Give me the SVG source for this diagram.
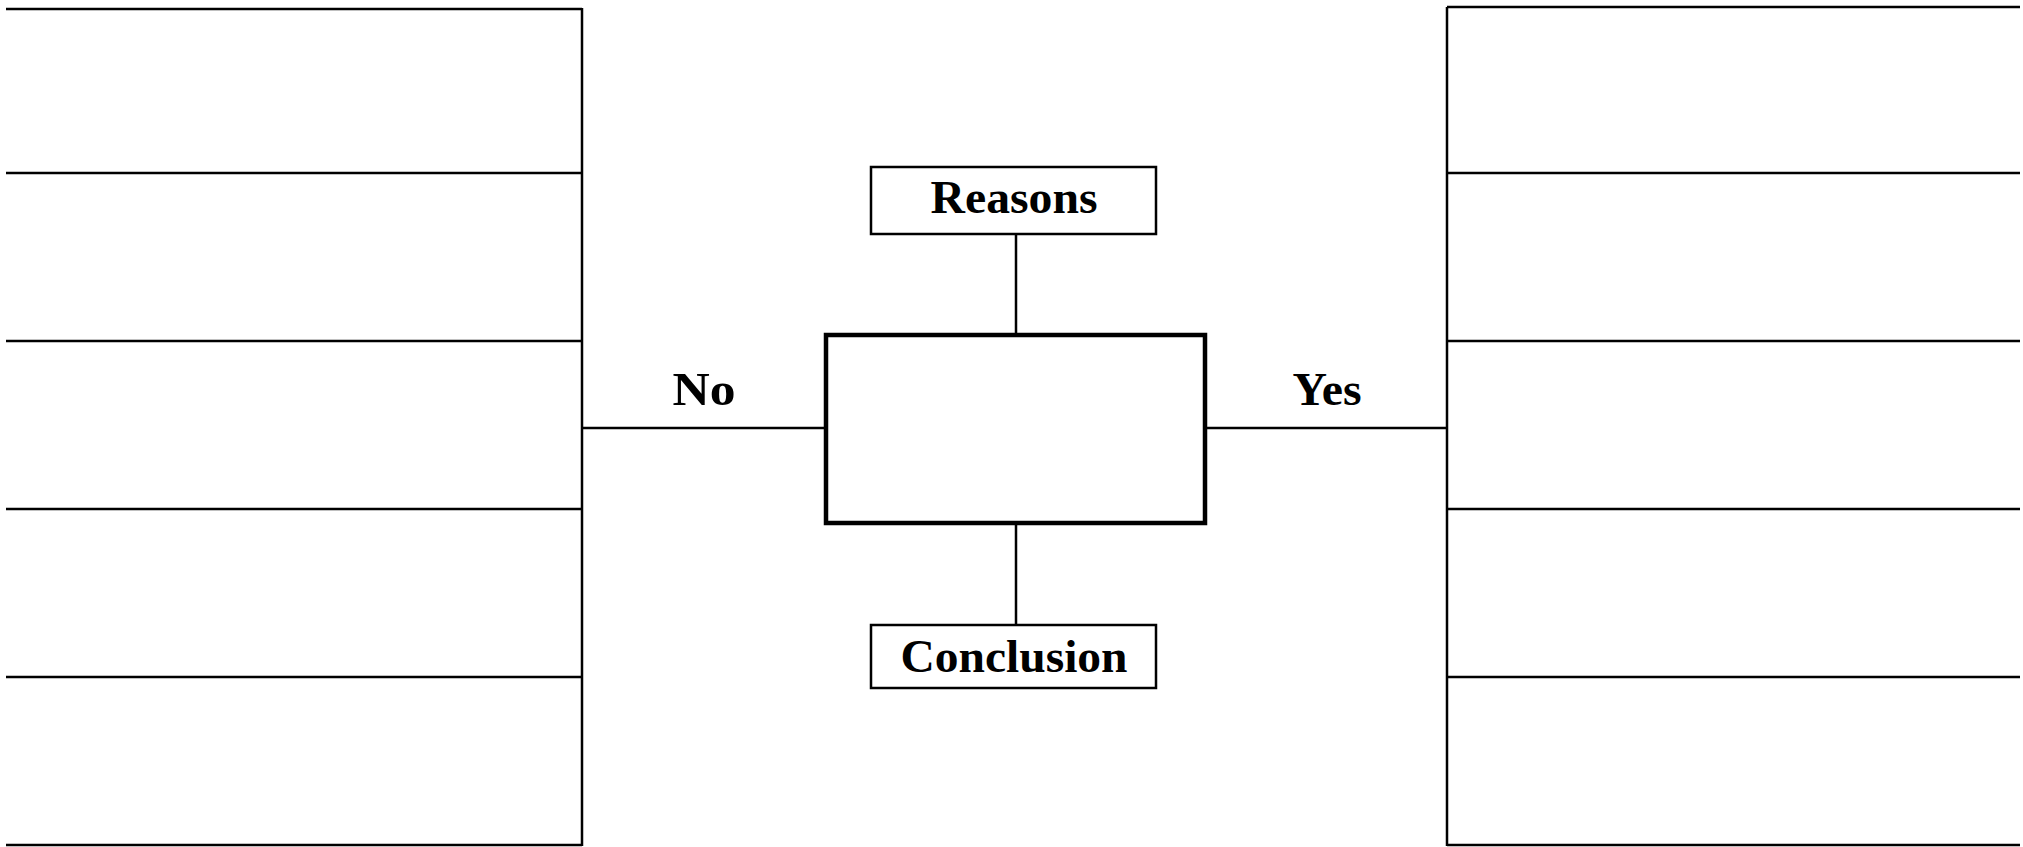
<svg xmlns="http://www.w3.org/2000/svg" width="2023" height="847" viewBox="0 0 2023 847">
<style>
.ln{stroke:#000;stroke-width:2.5;fill:none}
.bx{stroke:#000;stroke-width:2.5;fill:#fff}
.main{stroke:#000;stroke-width:4.5;fill:#fff}
.t{font-family:"Liberation Serif","Times New Roman",serif;font-weight:bold;font-size:47px;fill:#000;text-anchor:middle}
</style>
<rect width="2023" height="847" fill="#fff"/>
<g id="connectors">
<line class="ln" x1="1016" y1="234" x2="1016" y2="335"/>
<line class="ln" x1="1016" y1="523" x2="1016" y2="625"/>
<line class="ln" x1="583" y1="428" x2="826" y2="428"/>
<line class="ln" x1="1206" y1="428" x2="1448" y2="428"/>
</g>
<g id="left-panel">
<line class="ln" x1="582" y1="8" x2="582" y2="846"/>
<line class="ln" x1="6" y1="9" x2="582" y2="9"/>
<line class="ln" x1="6" y1="173" x2="581" y2="173"/>
<line class="ln" x1="6" y1="341" x2="581" y2="341"/>
<line class="ln" x1="6" y1="509" x2="581" y2="509"/>
<line class="ln" x1="6" y1="677" x2="581" y2="677"/>
<line class="ln" x1="6" y1="845" x2="582" y2="845"/>
</g>
<g id="right-panel">
<line class="ln" x1="1447" y1="7" x2="1447" y2="846"/>
<line class="ln" x1="1447" y1="7" x2="2020" y2="7"/>
<line class="ln" x1="1448" y1="173" x2="2020" y2="173"/>
<line class="ln" x1="1448" y1="341" x2="2020" y2="341"/>
<line class="ln" x1="1448" y1="509" x2="2020" y2="509"/>
<line class="ln" x1="1448" y1="677" x2="2020" y2="677"/>
<line class="ln" x1="1447" y1="845" x2="2020" y2="845"/>
</g>
<g id="center-box">
<rect class="main" x="826" y="335" width="379" height="188"/>
</g>
<g id="reasons">
<rect class="bx" x="871" y="167" width="285" height="67"/>
<text class="t" x="1014" y="213" textLength="167" lengthAdjust="spacingAndGlyphs">Reasons</text>
</g>
<g id="conclusion">
<rect class="bx" x="871" y="625" width="285" height="63"/>
<text class="t" x="1014" y="672" textLength="227" lengthAdjust="spacingAndGlyphs">Conclusion</text>
</g>
<g id="label-no">
<text class="t" x="704" y="405" textLength="63" lengthAdjust="spacingAndGlyphs">No</text>
</g>
<g id="label-yes">
<text class="t" x="1327" y="405" textLength="69" lengthAdjust="spacingAndGlyphs">Yes</text>
</g>
</svg>
